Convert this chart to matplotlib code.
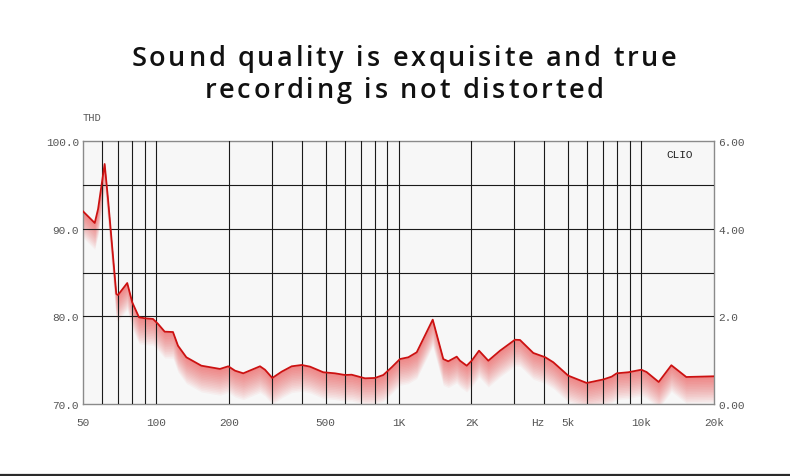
import matplotlib
matplotlib.use("Agg")
import matplotlib.pyplot as plt
from matplotlib.lines import Line2D
from matplotlib.ticker import NullFormatter
from matplotlib.font_manager import FontProperties, findfont, get_font

# THD curve (Hz, left-axis value)
freq = [50, 55.9, 57.7, 61.4, 63.4, 68.6, 69.7, 76.1, 79.8, 85.1, 89.9, 97.2,
        102, 108.6, 117.5, 123.2, 133.4, 153.8, 183.6, 198.7, 211.8, 229,
        268.5, 281.5, 301.7, 329.9, 362.7, 398.9, 431.7, 489.6, 547, 601.5,
        641, 727.6, 800, 865.6, 937.5, 1014, 1098, 1189, 1384, 1530, 1604,
        1738, 1793, 1911, 2004, 2148, 2346, 2622, 3022, 3170, 3597, 4031,
        4349, 5014, 5971, 6991, 7570, 7938, 8866, 10030, 10540, 11830,
        13340, 15370, 20000]
thd = [91.98, 90.65, 92.24, 97.38, 93.38, 82.55, 82.43, 83.8, 81.6, 79.89,
       79.78, 79.7, 79.13, 78.25, 78.21, 76.65, 75.33, 74.37, 74.0, 74.3,
       73.8, 73.5, 74.3, 73.91, 72.97, 73.69, 74.3, 74.45, 74.26, 73.62,
       73.5, 73.31, 73.34, 72.93, 72.97, 73.31, 74.19, 75.13, 75.33, 75.9,
       79.62, 75.13, 74.87, 75.4, 74.94, 74.37, 74.94, 76.08, 74.94, 76.08,
       77.33, 77.3, 75.82, 75.33, 74.76, 73.23, 72.4, 72.8, 73.12, 73.5,
       73.62, 73.91, 73.65, 72.51, 74.42, 73.08, 73.16]

x_ticks = [50, 100, 200, 500, 1000, 2000, 3750, 5000, 10000, 20000]
x_labels = ["50", "100", "200", "500", "1K", "2K", "Hz", "5k", "10k", "20k"]
x_grid = [60, 70, 80, 90, 100, 200, 300, 400, 500, 600, 700, 800, 900, 1000,
          2000, 3000, 4000, 5000, 6000, 7000, 8000, 9000, 10000]
y_ticks = [70, 80, 90, 100]
y_labels = ["70.0", "80.0", "90.0", "100.0"]
y_grid = [80, 85, 90, 95]
r_ticks = [0, 2, 4, 6]
r_labels = ["0.00", "2.0", "4.00", "6.00"]

title_lines = ["Sound quality is exquisite and true", "recording is not distorted"]

W, H = 790, 477
fig = plt.figure(figsize=(W / 100, H / 100), dpi=100)
ax = fig.add_axes([83 / W, 1 - 405 / H, 631 / W, 263 / H])
ax.set_facecolor("#f7f7f7")
ax.set_xscale("log")
ax.set_xlim(50, 20000)
ax.set_ylim(70, 100)
ax.xaxis.remove_overlapping_locs = False
ax.yaxis.remove_overlapping_locs = False
ax.set_axisbelow(False)

mono = "Liberation Mono"
tick_col = "#555555"

ax.set_xticks(x_ticks)
ax.set_xticklabels(x_labels, fontfamily=mono, fontsize=8, color=tick_col)
ax.set_xticks(x_grid, minor=True)
ax.xaxis.set_minor_formatter(NullFormatter())
ax.set_yticks(y_ticks)
ax.set_yticklabels(y_labels, fontfamily=mono, fontsize=8, color=tick_col)
ax.set_yticks(y_grid, minor=True)
ax.yaxis.set_minor_formatter(NullFormatter())
ax.tick_params(which="both", length=0)
ax.tick_params(axis="x", pad=9)
ax.tick_params(axis="y", pad=3)
ax.grid(which="minor", color="#1a1a1a", lw=0.8)
ax.grid(which="major", visible=False)
for s in ax.spines.values():
    s.set_color("#8a8a8a")
    s.set_linewidth(1.0)

# glow under the curve
n = 16
for i in range(n):
    d = 3.0 * (i + 1) / n
    ax.fill_between(freq, [v - d for v in thd], thd, color="#ee2a2a",
                    alpha=0.045, lw=0, zorder=1)
ax.plot(freq, thd, color="#cc1111", lw=1.3, zorder=5)

ax2 = ax.twinx()
ax2.set_ylim(0, 6)
ax2.set_yticks(r_ticks)
ax2.set_yticklabels(r_labels, fontfamily=mono, fontsize=8, color=tick_col)
ax2.tick_params(length=0, pad=3)
for s in ax2.spines.values():
    s.set_visible(False)

fig.text(83 / W, 1 - 118 / H, "THD", fontfamily=mono, fontsize=7.5,
         color=tick_col, va="center", ha="left")
ax.text(0.945, 0.95, "CLIO", transform=ax.transAxes, fontfamily=mono,
        fontsize=8, color="#222222", va="center", ha="center")

# letter-spaced title
size = 19.5
prop = FontProperties(family="Open Sans", size=size, weight="semibold")
font = get_font(findfont(prop))
font.set_size(size, 72)


def advances(s):
    return [font.load_char(ord(c)).linearHoriAdvance / 65536 * 100 / 72 for c in s]


adv1 = advances(title_lines[0])
gap = (545 - sum(adv1)) / (len(title_lines[0]) - 1)
for line, base in zip(title_lines, [66, 97.5]):
    adv = advances(line)
    total = sum(adv) + gap * (len(line) - 1)
    x = 404 - total / 2
    for c, a in zip(line, adv):
        fig.text(x / W, 1 - base / H, c, fontproperties=prop, color="#111111",
                 ha="left", va="baseline")
        x += a + gap

fig.add_artist(Line2D([0, 1], [1 - 475.5 / H, 1 - 475.5 / H],
                      transform=fig.transFigure, color="#2a2a2a", lw=1.6))

fig.savefig("out.png", dpi=100)
